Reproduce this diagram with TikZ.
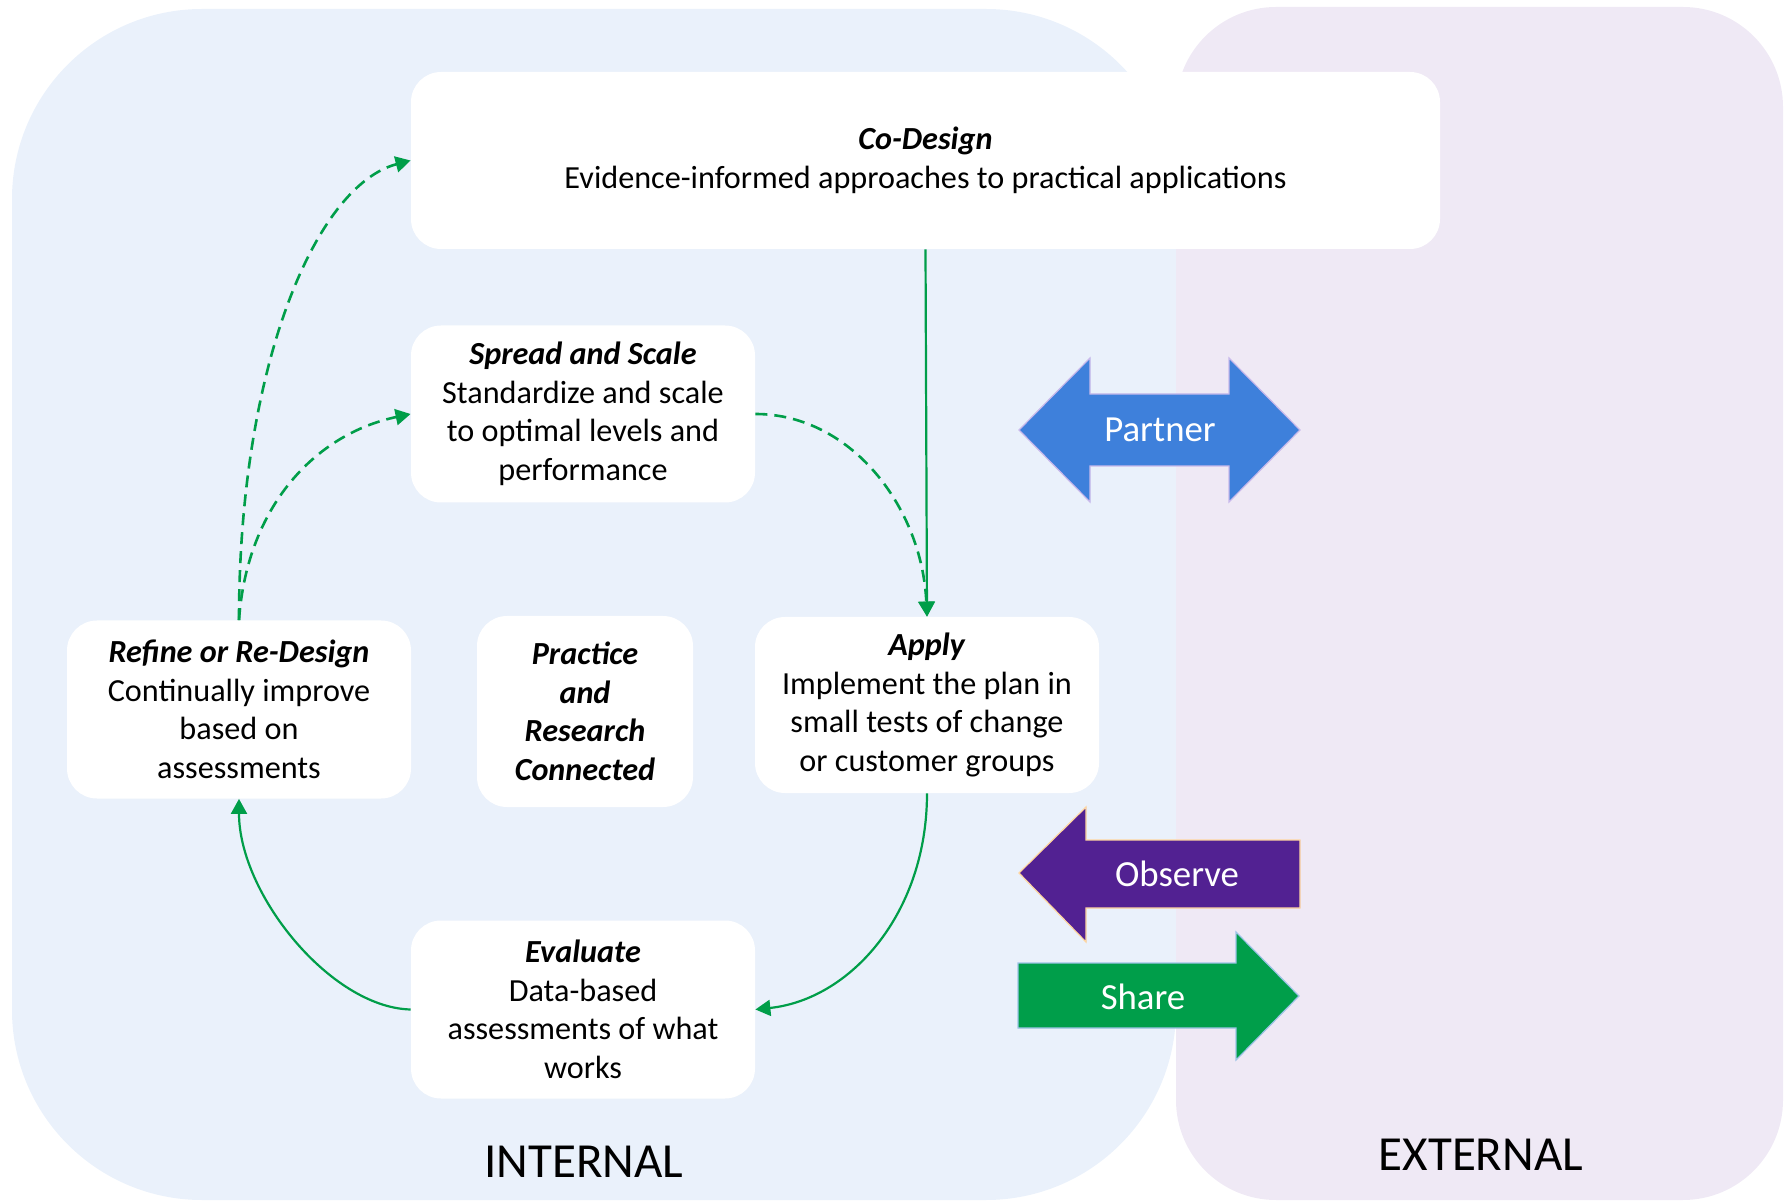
\documentclass[tikz,border=0pt]{standalone}
\usepackage{fontspec}
\setmainfont{Carlito}
\usetikzlibrary{arrows.meta}

\definecolor{internalbg}{RGB}{234,241,251}
\definecolor{externalbg}{RGB}{239,233,245}
\definecolor{flowgreen}{RGB}{0,158,73}
\definecolor{partnerblue}{RGB}{62,128,219}
\definecolor{partneredge}{RGB}{200,185,235}
\definecolor{observepurple}{RGB}{82,33,146}
\definecolor{observeedge}{RGB}{255,214,160}
\definecolor{sharegreen}{RGB}{0,158,74}
\definecolor{shareedge}{RGB}{157,195,230}

\tikzset{
  stage/.style={fill=white, rounded corners=15pt, align=center, inner sep=0pt,
    minimum width=172pt, minimum height=88.5pt,
    font=\fontsize{16.1}{19.3}\selectfont},
  flow/.style={draw=flowgreen, line width=1.1pt, -{Triangle[length=7.5pt,width=8pt]}},
  maybe/.style={flow, line width=1.3pt, dash pattern=on 6pt off 3.5pt},
  arrowtext/.style={text=white, font=\fontsize{18.4}{22}\selectfont},
  zone/.style={font=\fontsize{24.5}{30}\selectfont}
}
\newcommand{\stagetitle}[1]{\textbf{\textit{#1}}}

\begin{document}
\begin{tikzpicture}[x=0.5pt, y=0.5pt]
    \useasboundingbox (0,0) rectangle (1789,1201);

    % background zones
    \fill[internalbg, rounded corners=95pt] (12,1) rectangle (1176,1192);
    \fill[externalbg, rounded corners=50pt] (1176,1) rectangle (1783,1194);

    % stages
    \node[stage, minimum width=514.5pt] (codesign) at (925.5,1040.5)
        {\stagetitle{Co-Design}\\Evidence-informed approaches to practical applications};
    \node[stage] (spread) at (583,787)
        {\stagetitle{Spread and Scale}\\Standardize and scale\\to optimal levels and\\performance};
    \node[stage, minimum height=89pt] (refine) at (239,491.5)
        {\stagetitle{Refine or Re-Design}\\Continually improve\\based on\\assessments};
    \node[stage, minimum width=108pt, minimum height=95.5pt] (practice) at (585,489.5)
        {\stagetitle{Practice}\\\stagetitle{and}\\\stagetitle{Research}\\\stagetitle{Connected}};
    \node[stage, minimum height=88pt] (apply) at (927,496)
        {\stagetitle{Apply}\\Implement the plan in\\small tests of change\\or customer groups};
    \node[stage, minimum height=89pt] (evaluate) at (583,191.5)
        {\stagetitle{Evaluate}\\Data-based\\assessments of what\\works};

    % cycle
    \draw[flow] (codesign.south) -- (apply.north);
    \draw[maybe] (spread.east) .. controls +(95,0) and +(-5,110) .. (apply.north);
    \draw[flow] (apply.south) .. controls +(0,-120) and +(95,10) .. (evaluate.east);
    \draw[flow] (evaluate.west) .. controls +(-80,2) and +(0,-95) .. (refine.south);
    \draw[maybe] (refine.north) .. controls +(8,114) and +(-95,-20) .. (spread.west);
    \draw[maybe] (refine.north) .. controls +(0,254) and +(-95,-25) .. (codesign.west);

    % partner, observe, share
    \filldraw[fill=partnerblue, draw=partneredge, line width=0.6pt]
        (1019,771) -- (1090,843) -- (1090,807) -- (1229,807) -- (1229,843) -- (1300,771)
        -- (1229,699) -- (1229,735) -- (1090,735) -- (1090,699) -- cycle;
    \node[arrowtext] (partner) at (1160,771) {Partner};

    \filldraw[fill=observepurple, draw=observeedge, line width=0.6pt]
        (1019,328) -- (1086,394) -- (1086,361) -- (1300,361) -- (1300,293)
        -- (1086,293) -- (1086,259) -- cycle;
    \node[arrowtext] (observe) at (1177,327) {Observe};

    \filldraw[fill=sharegreen, draw=shareedge, line width=0.6pt]
        (1018,238) -- (1236,238) -- (1236,269) -- (1299,205) -- (1236,141)
        -- (1236,173) -- (1018,173) -- cycle;
    \node[arrowtext] (share) at (1143,204) {Share};

    % zone labels
    \node[zone] (internal) at (584,39.5) {INTERNAL};
    \node[zone] (external) at (1481,46.5) {EXTERNAL};
\end{tikzpicture}
\end{document}
